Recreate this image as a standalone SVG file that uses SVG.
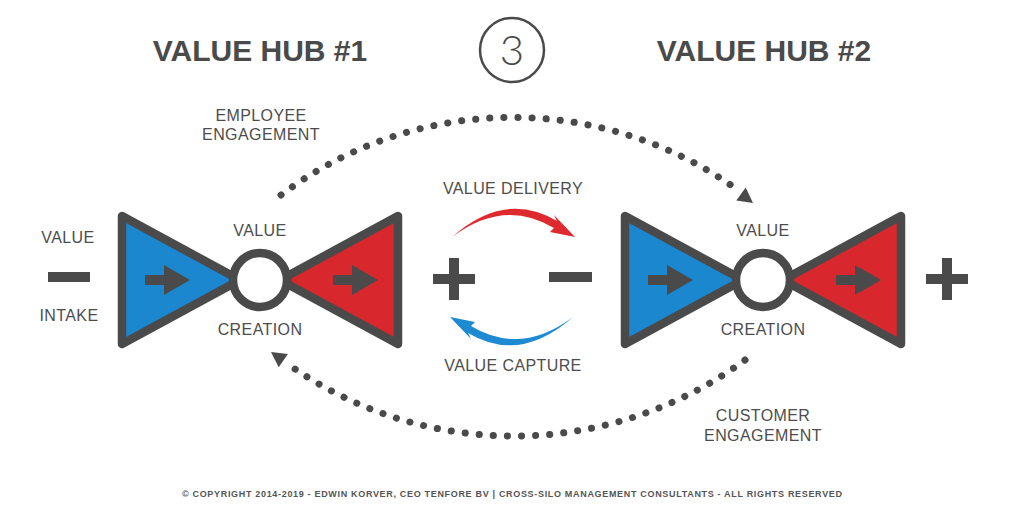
<svg xmlns="http://www.w3.org/2000/svg" xmlns:xlink="http://www.w3.org/1999/xlink" width="1024" height="510" viewBox="0 0 1024 510">
<style>
.lbl{font-family:"Liberation Sans",Arial,sans-serif;font-size:16px;fill:#4d4d4d;text-anchor:middle;letter-spacing:0.4px}
.ttl{font-family:"Liberation Sans",Arial,sans-serif;font-size:30px;font-weight:bold;fill:#4a4a4a;text-anchor:middle}
.tri{stroke:#4a4a4a;stroke-width:8.5;stroke-linejoin:round}
.blue{fill:#1b87cf}
.red{fill:#d8282d}
.hubc{fill:#fff;stroke:#4a4a4a;stroke-width:8.5}
.sign{fill:#4a4a4a}
.dots{fill:none;stroke:#4a4a4a;stroke-width:7;stroke-linecap:round;stroke-dasharray:0.1 14}
.head{fill:#4a4a4a}
</style>
<defs>
<path id="inarrow" d="M0,-5 H19 V-15 L45,0 L19,15 V5 H0 Z" fill="#4a4a4a"/>
<path id="swoosh" d="M452,237 Q505,190 557,221 L554,215 L575,237 L550,232 L554,228 Q504,198 452,237 Z"/>
</defs>
<rect width="1024" height="510" fill="#fff"/>

<g id="title1"><text class="ttl" x="260" y="61">VALUE HUB #1</text></g>
<g id="title2"><text class="ttl" x="764" y="61">VALUE HUB #2</text></g>
<g id="step">
<circle cx="512" cy="50" r="32" fill="none" stroke="#4a4a4a" stroke-width="2.5"/>
<text x="512" y="65" font-family="Lato,Liberation Sans,Arial,sans-serif" font-weight="300" font-size="42" fill="#4a4a4a" text-anchor="middle">3</text>
</g>

<g id="intake">
<text class="lbl" x="68" y="243">VALUE</text>
<rect class="sign" x="48" y="272" width="42" height="10"/>
<text class="lbl" x="69" y="321">INTAKE</text>
</g>

<g id="hub1">
<polygon class="tri blue" points="122,216 122,344 240,280"/>
<polygon class="tri red" points="398,216 398,344 280,280"/>
<circle class="hubc" cx="260" cy="280" r="27"/>
<use xlink:href="#inarrow" x="145" y="280"/>
<use xlink:href="#inarrow" x="333" y="280"/>
<text class="lbl" x="260" y="236">VALUE</text>
<text class="lbl" x="260" y="335">CREATION</text>
</g>

<g id="plus1"><rect class="sign" x="433" y="274" width="42" height="10"/><rect class="sign" x="449" y="258" width="10" height="42"/></g>
<g id="minus2"><rect class="sign" x="549" y="272" width="43" height="10"/></g>

<g id="hub2">
<polygon class="tri blue" points="625,216 625,344 743,280"/>
<polygon class="tri red" points="901,216 901,344 783,280"/>
<circle class="hubc" cx="763" cy="280" r="27"/>
<use xlink:href="#inarrow" x="648" y="280"/>
<use xlink:href="#inarrow" x="836" y="280"/>
<text class="lbl" x="763" y="236">VALUE</text>
<text class="lbl" x="763" y="335">CREATION</text>
</g>

<g id="plus3"><rect class="sign" x="926" y="274" width="42" height="10"/><rect class="sign" x="942" y="258" width="10" height="42"/></g>

<g id="connectors">
<path class="dots" d="M281,195 A385,385 0 0 1 735,188"/>
<polygon class="head" points="753,203 736.3,200.5 745.7,187.5"/>
<path class="dots" d="M745,360 A390,390 0 0 1 292,367"/>
<polygon class="head" points="271,352 287.9,354 278.7,367.2"/>
<use xlink:href="#swoosh" fill="#de2a2e"/>
<use xlink:href="#swoosh" fill="#1e8ad2" transform="rotate(180 512.5 277)"/>
</g>

<g id="labels">
<text class="lbl" x="261" y="121">EMPLOYEE</text>
<text class="lbl" x="261" y="140">ENGAGEMENT</text>
<text class="lbl" x="513" y="194">VALUE DELIVERY</text>
<text class="lbl" x="513" y="371">VALUE CAPTURE</text>
<text class="lbl" x="763" y="421">CUSTOMER</text>
<text class="lbl" x="763" y="441">ENGAGEMENT</text>
</g>

<g id="footer">
<text x="512" y="497" font-family="Liberation Sans,Arial,sans-serif" font-size="9" font-weight="bold" fill="#555" text-anchor="middle" textLength="660" lengthAdjust="spacing">© COPYRIGHT 2014-2019 - EDWIN KORVER, CEO TENFORE BV | CROSS-SILO MANAGEMENT CONSULTANTS - ALL RIGHTS RESERVED</text>
</g>
</svg>
